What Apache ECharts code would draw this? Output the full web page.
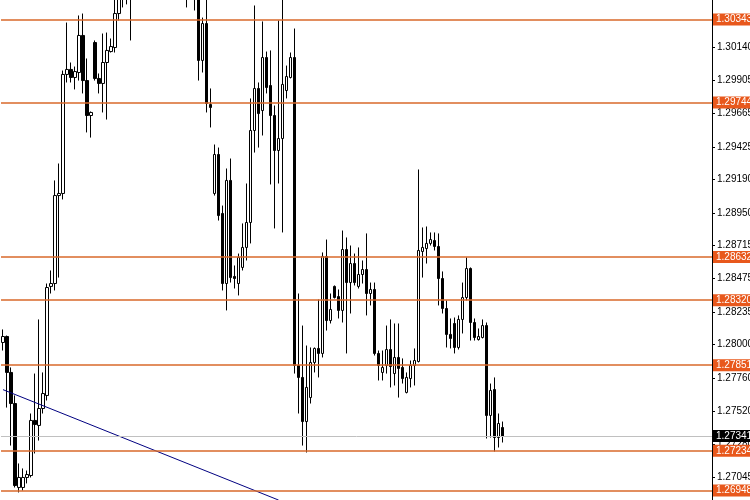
<!DOCTYPE html>
<html>
<head>
<meta charset="utf-8">
<title>GBPUSD-style candles</title>
<script src="https://cdn.jsdelivr.net/npm/echarts@6/dist/echarts.min.js"></script>
<style>
  html, body { margin: 0; padding: 0; background: #fff; }
  #chart { width: 750px; height: 500px; }
</style>
</head>
<body>
<div id="chart"></div>
<script>
// bars, left to right (candles 33-47 sit above the visible window)
const opens = [
  1.28015, 1.28058, 1.27799, 1.27575, 1.26970, 1.26970, 1.27042, 1.27056, 1.27453, 1.27417,
  1.27539, 1.27633, 1.28419, 1.28440, 1.29074, 1.29089, 1.29947, 1.29983, 1.29925, 1.29961,
  1.30228, 1.29903, 1.29651, 1.30177, 1.29918, 1.29882, 1.30033, 1.30112, 1.30141, 1.30386,
  1.30620, 1.30660, 1.30600, 1.30520, 1.30580, 1.30700, 1.30650, 1.30760, 1.30720, 1.30800,
  1.30760, 1.30840, 1.30780, 1.30720, 1.30760, 1.30680, 1.30700, 1.30640, 1.30660, 1.30600,
  1.30048, 1.30314, 1.29730, 1.29089, 1.29370, 1.28945, 1.28440, 1.29183, 1.28491, 1.28440,
  1.28556, 1.28700, 1.28880, 1.29543, 1.29846, 1.29687, 1.30069, 1.29867, 1.29651, 1.29399,
  1.29485, 1.29831, 1.29925, 1.30069, 1.27849, 1.27763, 1.27445, 1.27618, 1.27871, 1.27972,
  1.27936, 1.28635, 1.28173, 1.28419, 1.28346, 1.28246, 1.28685, 1.28447, 1.28584, 1.28419,
  1.28505, 1.28541, 1.28368, 1.28397, 1.27936, 1.27799, 1.27849, 1.27964, 1.27791, 1.27907,
  1.27835, 1.27655, 1.27755, 1.27849, 1.27878, 1.28671, 1.28692, 1.28729, 1.28750, 1.28707,
  1.28476, 1.28260, 1.28073, 1.28152, 1.27979, 1.28181, 1.28339, 1.28548, 1.28159, 1.28036,
  1.28051, 1.28137, 1.27489, 1.27676, 1.27330, 1.27402
];
const closes = [
  1.28058, 1.27799, 1.27575, 1.26984, 1.27042, 1.27042, 1.27063, 1.27453, 1.27424, 1.27539,
  1.27647, 1.28411, 1.28440, 1.29074, 1.29089, 1.29947, 1.29983, 1.29925, 1.29968, 1.30228,
  1.29903, 1.29651, 1.29673, 1.29918, 1.29882, 1.30033, 1.30120, 1.30148, 1.30386, 1.30624,
  1.30660, 1.30600, 1.30520, 1.30580, 1.30700, 1.30650, 1.30760, 1.30720, 1.30800, 1.30760,
  1.30840, 1.30780, 1.30720, 1.30760, 1.30680, 1.30700, 1.30640, 1.30660, 1.30600, 1.30048,
  1.30314, 1.29738, 1.29709, 1.29370, 1.28930, 1.28440, 1.29183, 1.28483, 1.28476, 1.28628,
  1.28700, 1.28880, 1.29543, 1.29846, 1.29665, 1.30069, 1.29853, 1.29651, 1.29399, 1.29485,
  1.29875, 1.29932, 1.30069, 1.27849, 1.27763, 1.27445, 1.27691, 1.27871, 1.27972, 1.27936,
  1.28635, 1.28173, 1.28253, 1.28339, 1.28246, 1.28685, 1.28447, 1.28584, 1.28447, 1.28505,
  1.28541, 1.28368, 1.28397, 1.27936, 1.27849, 1.27835, 1.27964, 1.27842, 1.27907, 1.27828,
  1.27755, 1.27763, 1.27849, 1.27885, 1.28678, 1.28700, 1.28729, 1.28757, 1.28707, 1.28476,
  1.28260, 1.28073, 1.28044, 1.27979, 1.28181, 1.28339, 1.28548, 1.28159, 1.28051, 1.28058,
  1.28137, 1.27489, 1.27669, 1.27330, 1.27431, 1.27341
];
const lows = [
  1.27957, 1.27546, 1.27272, 1.26970, 1.26934, 1.26948, 1.26999, 1.27042, 1.27215, 1.27308,
  1.27503, 1.27597, 1.28368, 1.28390, 1.28483, 1.29046, 1.29889, 1.29889, 1.29839, 1.29903,
  1.29810, 1.29529, 1.29492, 1.29903, 1.29810, 1.29673, 1.29622, 1.30105, 1.30105, 1.30336,
  1.30430, 1.30452, 1.30192, 1.30500, 1.30550, 1.30600, 1.30620, 1.30680, 1.30690, 1.30700,
  1.30720, 1.30700, 1.30650, 1.30640, 1.30600, 1.30560, 1.30430, 1.30520, 1.30408, 1.29903,
  1.29961, 1.29673, 1.29565, 1.29074, 1.28894, 1.28390, 1.28246, 1.28447, 1.28404, 1.28354,
  1.28534, 1.28606, 1.28729, 1.29384, 1.29420, 1.29507, 1.29810, 1.29154, 1.28837, 1.29161,
  1.28808, 1.29774, 1.29918, 1.27791, 1.27503, 1.27272, 1.27222, 1.27575, 1.27799, 1.27763,
  1.27907, 1.28101, 1.28152, 1.28332, 1.28188, 1.28159, 1.27936, 1.28224, 1.28426, 1.28404,
  1.28440, 1.28210, 1.28282, 1.27921, 1.27741, 1.27741, 1.27791, 1.27691, 1.27705, 1.27618,
  1.27719, 1.27648, 1.27691, 1.27705, 1.27871, 1.28483, 1.28584, 1.28714, 1.28678, 1.28282,
  1.28224, 1.27979, 1.27972, 1.27936, 1.27964, 1.28080, 1.28318, 1.28029, 1.28029, 1.28029,
  1.28044, 1.27323, 1.27330, 1.27229, 1.27258, 1.27294
];
const highs = [
  1.28109, 1.28065, 1.27835, 1.27633, 1.27143, 1.27107, 1.27092, 1.27503, 1.27791, 1.28181,
  1.27799, 1.28440, 1.28534, 1.29183, 1.29305, 1.29975, 1.30321, 1.30033, 1.30004, 1.30372,
  1.30386, 1.30062, 1.29680, 1.30192, 1.29954, 1.30242, 1.30249, 1.30206, 1.30516, 1.30696,
  1.30740, 1.30720, 1.30650, 1.30650, 1.30760, 1.30780, 1.30820, 1.30850, 1.30880, 1.30900,
  1.30910, 1.30880, 1.30830, 1.30800, 1.30790, 1.30760, 1.30740, 1.30720, 1.30700, 1.30640,
  1.30357, 1.30516, 1.29846, 1.29442, 1.29420, 1.29002, 1.29269, 1.29341, 1.28570, 1.28656,
  1.28873, 1.29161, 1.29774, 1.30444, 1.29889, 1.30329, 1.30112, 1.30120, 1.29723, 1.30336,
  1.30494, 1.30011, 1.30105, 1.30278, 1.28368, 1.28137, 1.27993, 1.27979, 1.27979, 1.28325,
  1.28664, 1.28757, 1.28368, 1.28426, 1.28397, 1.28822, 1.28772, 1.28714, 1.28656, 1.28700,
  1.28606, 1.28801, 1.28447, 1.28447, 1.27957, 1.27957, 1.28137, 1.28181, 1.28152, 1.28152,
  1.27900, 1.27799, 1.27885, 1.27972, 1.29262, 1.28844, 1.28851, 1.28808, 1.28808, 1.28801,
  1.28527, 1.28318, 1.28188, 1.28195, 1.28210, 1.28447, 1.28628, 1.28556, 1.28188, 1.28116,
  1.28181, 1.28159, 1.27719, 1.27763, 1.27503, 1.27445
];

// window holds 178 bar slots, the last ones empty (chart shift)
const slotCount = 178;

// price scale tick labels
const priceTicks = [
  1.30140, 1.29905, 1.29665, 1.29425, 1.29190, 1.28950, 1.28715, 1.28475,
  1.28235, 1.28000, 1.27760, 1.27520, 1.27280, 1.27045
];

// horizontal levels
const levels = [1.30343, 1.29744, 1.28632, 1.28320, 1.27851, 1.27234, 1.26948];
const bidPrice = 1.27341;

// trend line: [slot, price] at both ends
const trendSlots = [0, 69];
const trendPrices = [1.27675, 1.26879];

const priceMin = 1.268796;
const priceMax = 1.304836;

const chart = echarts.init(document.getElementById('chart'));

const slots = [];
for (let i = 0; i < slotCount; i++) slots.push(String(i));

const candleData = opens.map((o, i) => [o, closes[i], lows[i], highs[i]]);

const trendData = slots.map(() => '-');
trendSlots.forEach((s, i) => { trendData[s] = trendPrices[i]; });

const fontFamily = '"Liberation Sans", Arial, sans-serif';
const levelColor = '#d8682a';

const levelLines = levels.map(v => ({
  yAxis: v,
  lineStyle: { color: levelColor, width: 1.5, type: 'solid' },
  label: { backgroundColor: '#e8581c' }
}));
// bid line goes last so its black tag sits on top
levelLines.push({
  yAxis: bidPrice,
  lineStyle: { color: '#c0c0c0', width: 1, type: 'solid' },
  label: { backgroundColor: '#000000' }
});

const option = {
  backgroundColor: '#ffffff',
  animation: false,
  grid: { left: 1, right: 38, top: 0, bottom: 0, outerBoundsMode: 'none', containLabel: false },
  xAxis: {
    type: 'category',
    data: slots,
    show: false
  },
  yAxis: {
    type: 'value',
    position: 'right',
    min: priceMin,
    max: priceMax,
    scale: true,
    splitLine: { show: false },
    axisLine: { show: true, lineStyle: { color: '#000', width: 1 } },
    axisTick: {
      show: true,
      length: 3,
      customValues: priceTicks,
      lineStyle: { color: '#000' }
    },
    axisLabel: {
      customValues: priceTicks,
      margin: 5,
      padding: [4, 0, 0, 0],
      color: '#000',
      fontSize: 10,
      fontFamily: fontFamily,
      hideOverlap: false,
      formatter: v => v.toFixed(5)
    }
  },
  series: [
    {
      type: 'candlestick',
      data: candleData,
      barWidth: 3,
      clip: true,
      itemStyle: {
        color: '#ffffff',
        color0: '#000000',
        borderColor: '#000000',
        borderColor0: '#000000',
        borderWidth: 1
      },
      markLine: {
        silent: true,
        precision: 5,
        symbol: ['none', 'none'],
        animation: false,
        label: {
          show: true,
          position: 'end',
          distance: 1,
          color: '#ffffff',
          fontSize: 10,
          fontFamily: fontFamily,
          padding: [1, 3, 1, 3],
          formatter: p => Number(p.value).toFixed(5)
        },
        data: levelLines
      }
    },
    {
      type: 'line',
      data: trendData,
      connectNulls: true,
      showSymbol: false,
      symbol: 'none',
      clip: true,
      lineStyle: { color: '#000080', width: 1 },
      z: 3
    }
  ]
};

chart.setOption(option);
</script>
</body>
</html>
